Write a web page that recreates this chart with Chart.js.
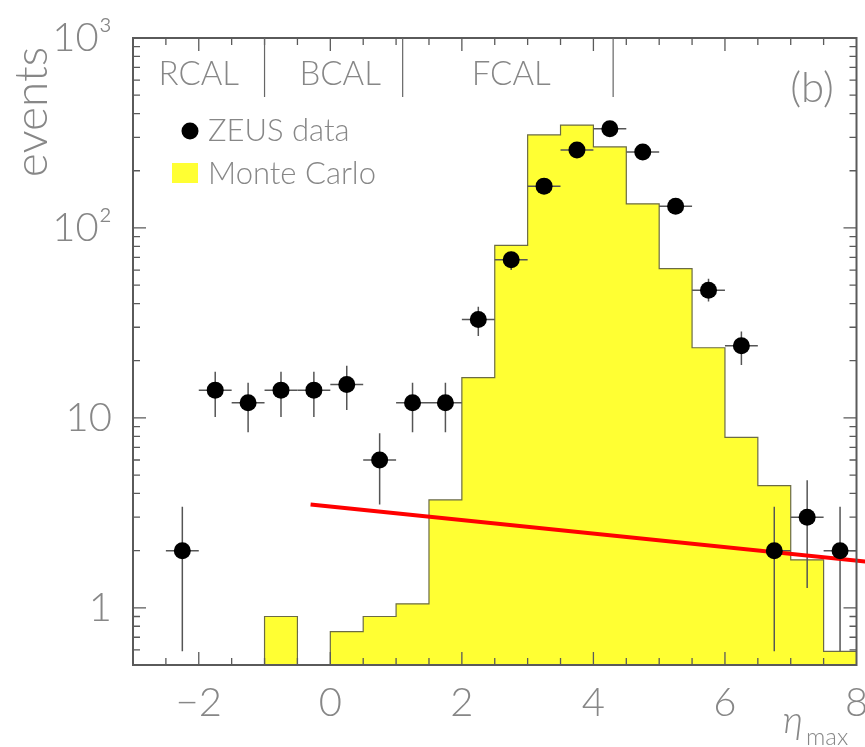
<!DOCTYPE html>
<html>
<head>
<meta charset="utf-8">
<script src="https://cdn.jsdelivr.net/npm/chart.js@4/dist/chart.umd.min.js"></script>
<style>
  html, body { margin: 0; padding: 0; background: #fff; }
  #wrap { width: 865px; height: 747px; }
</style>
</head>
<body>
<div id="wrap"><canvas id="etaChart" width="865" height="747"></canvas></div>
<script>
// ===============================
// DATA
// ===============================
const binCenters = [-2.25, -1.75, -1.25, -0.75, -0.25, 0.25, 0.75, 1.25, 1.75, 2.25, 2.75,
  3.25, 3.75, 4.25, 4.75, 5.25, 5.75, 6.25, 6.75, 7.25, 7.75];
const zeusData = [2, 14, 12, 14, 14, 15, 6, 12, 12, 33, 68, 166, 257, 333, 251, 130, 47, 24, 2, 3, 2];
const zeusHigh = [3.4, 17.5, 15.3, 17.5, 17.5, 18.8, 8.3, 15.3, 15.3, 38.5, 75, 179, 273, 351, 267, 142, 54, 28.5, 3.4, 4.7, 3.4];
const zeusLow = [0.59, 10.1, 8.4, 10.1, 10.1, 11, 3.5, 8.4, 8.4, 27, 60, 153, 241, 315, 235, 119, 41, 19, 0.59, 1.27, 0.59];
const binHalfWidth = 0.25;

// Monte Carlo histogram: left bin edges and contents (0.1 = empty bin, below the axis)
const mcLeftEdges = [-1, -0.5, 0, 0.5, 1, 1.5, 2, 2.5, 3, 3.5, 4, 4.5, 5, 5.5, 6, 6.5, 7, 7.5];
const mcValues = [0.9, 0.1, 0.75, 0.9, 1.05, 3.7, 16.3, 81, 309, 348, 267, 134, 61, 23.4, 7.9, 4.4, 1.79, 0.59];
const mcRightEdge = 8;

// red straight line
const fitX = [-0.3, 8.14];
const fitY = [3.5, 1.75];

// calorimeter regions
const calBounds = [-1.0, 1.1, 4.3];
const calBoundTop = 1000;
const calBoundBottom = 489;
const calNames = ["RCAL", "BCAL", "FCAL"];
const calLabelX = [-2.0, 0.15, 2.75];

// axes
const xTickValues = [-2, 0, 2, 4, 6, 8];
const yTickValues = [1, 10, 100, 1000];
const yTickLabels = { 1: "1", 10: "10", 100: "10²", 1000: "10³" };

// ===============================
// STYLE
// ===============================
const FONT = '"Lato", "DejaVu Sans", sans-serif';
const TEXT_GRAY = "#878787";
const AXIS_GRAY = "#5a5a5a";

Chart.defaults.font.family = FONT;
Chart.defaults.font.weight = 300;
Chart.defaults.color = TEXT_GRAY;

// histogram points for a stepped line
const mcPoints = [{ x: mcLeftEdges[0], y: 0.1 }];
mcLeftEdges.forEach((e, i) => mcPoints.push({ x: e, y: mcValues[i] }));
mcPoints.push({ x: mcRightEdge, y: mcValues[mcValues.length - 1] });

function drawErrorBars(chart) {
  const { ctx, chartArea, scales } = chart;
  const xs = scales.x, ys = scales.y;
  ctx.save();
  ctx.beginPath();
  ctx.rect(chartArea.left, chartArea.top, chartArea.right - chartArea.left, chartArea.bottom - chartArea.top);
  ctx.clip();
  ctx.strokeStyle = "#555";
  ctx.lineWidth = 1.5;
  binCenters.forEach((c, i) => {
    const px = xs.getPixelForValue(c);
    const py = ys.getPixelForValue(zeusData[i]);
    ctx.beginPath();
    ctx.moveTo(xs.getPixelForValue(c - binHalfWidth), py);
    ctx.lineTo(xs.getPixelForValue(c + binHalfWidth), py);
    ctx.moveTo(px, ys.getPixelForValue(zeusHigh[i]));
    ctx.lineTo(px, ys.getPixelForValue(zeusLow[i]));
    ctx.stroke();
  });
  ctx.restore();
}

const framePlugin = {
  id: "frame",
  afterDatasetDraw(chart, args) {
    if (args.index === 3) drawErrorBars(chart);
  },
  afterDatasetsDraw(chart) {
    const { ctx, chartArea: a, scales } = chart;
    const xs = scales.x, ys = scales.y;
    ctx.save();

    // frame
    ctx.strokeStyle = AXIS_GRAY;
    ctx.lineWidth = 2;
    ctx.strokeRect(a.left, a.top, a.right - a.left, a.bottom - a.top);

    // x ticks (inward, top and bottom)
    ctx.lineWidth = 1.3;
    ctx.beginPath();
    for (let v = -2.5; v < 8; v += 0.5) {
      const px = xs.getPixelForValue(v);
      const len = xTickValues.includes(v) ? 13 : 7;
      ctx.moveTo(px, a.bottom); ctx.lineTo(px, a.bottom - len);
      ctx.moveTo(px, a.top); ctx.lineTo(px, a.top + len);
    }
    // y ticks (inward, left and right)
    for (let d = 0.1; d < 1000; d *= 10) {
      for (let m = 1; m <= 9; m++) {
        const v = m * d;
        if (v <= 0.5 || v >= 1000) continue;
        const py = ys.getPixelForValue(v);
        const len = m === 1 ? 13 : 7;
        ctx.moveTo(a.left, py); ctx.lineTo(a.left + len, py);
        ctx.moveTo(a.right, py); ctx.lineTo(a.right - len, py);
      }
    }
    ctx.stroke();

    // calorimeter boundaries
    ctx.strokeStyle = "#666";
    ctx.lineWidth = 1.2;
    ctx.beginPath();
    calBounds.forEach((b) => {
      const px = xs.getPixelForValue(b);
      ctx.moveTo(px, ys.getPixelForValue(calBoundTop));
      ctx.lineTo(px, ys.getPixelForValue(calBoundBottom));
    });
    ctx.stroke();

    ctx.fillStyle = TEXT_GRAY;
    ctx.textBaseline = "middle";
    ctx.textAlign = "center";
    ctx.font = "300 33px " + FONT;
    calNames.forEach((n, i) => ctx.fillText(n, xs.getPixelForValue(calLabelX[i]), 74));

    // panel label
    ctx.font = "300 42px " + FONT;
    ctx.fillText("(b)", 812, 88);

    // legend
    ctx.textAlign = "left";
    ctx.font = "300 31px " + FONT;
    ctx.fillStyle = "#000";
    ctx.beginPath();
    ctx.arc(190, 131, 8.5, 0, Math.PI * 2);
    ctx.fill();
    ctx.fillStyle = "#ffff33";
    ctx.fillRect(172, 163, 26, 20);
    ctx.fillStyle = TEXT_GRAY;
    ctx.fillText("ZEUS data", 208, 131);
    ctx.fillText("Monte Carlo", 208, 174);

    // y axis title
    ctx.save();
    ctx.translate(32, 112);
    ctx.rotate(-Math.PI / 2);
    ctx.textAlign = "center";
    ctx.font = "300 46px " + FONT;
    ctx.fillText("events", 0, 0);
    ctx.restore();

    // x axis title
    ctx.textBaseline = "alphabetic";
    ctx.font = "italic 300 38px " + FONT;
    ctx.fillText("η", 783, 733);
    ctx.font = "300 24px " + FONT;
    ctx.fillText("max", 806, 745);

    ctx.restore();
  },
};

// ===============================
// CHART
// ===============================
const canvas = document.getElementById("etaChart");

new Chart(canvas, {
  type: "line",
  data: {
    datasets: [
      {
        label: "ZEUS data",
        data: binCenters.map((c, i) => ({ x: c, y: zeusData[i] })),
        showLine: false,
        pointRadius: 8.5,
        pointBackgroundColor: "#000",
        pointBorderWidth: 0,
      },
      {
        label: "fit",
        data: fitX.map((x, i) => ({ x, y: fitY[i] })),
        borderColor: "#ff0000",
        borderWidth: 4,
        pointRadius: 0,
        clip: false,
      },
      {
        label: "spacer",
        data: [],
      },
      {
        label: "Monte Carlo",
        data: mcPoints,
        stepped: "before",
        borderColor: "#6b6b45",
        borderWidth: 1.2,
        backgroundColor: "#ffff33",
        fill: "start",
        pointRadius: 0,
      },
    ],
  },
  options: {
    responsive: false,
    animation: false,
    layout: { padding: { top: 38, right: 8, left: 0, bottom: 0 } },
    plugins: {
      legend: { display: false },
      tooltip: { enabled: false },
    },
    scales: {
      x: {
        type: "linear",
        min: -3,
        max: 8,
        afterBuildTicks: (scale) => {
          scale.ticks = xTickValues.map((v) => ({ value: v }));
        },
        afterFit: (scale) => {
          scale.height = 82;
          scale.paddingLeft = 0;
          scale.paddingRight = 0;
        },
        ticks: {
          font: { size: 40, weight: 300 },
          color: TEXT_GRAY,
          padding: 6,
          maxRotation: 0,
          callback: (v) => (v < 0 ? "\u2212" + Math.abs(v) : String(v)),
        },
        grid: { display: false },
        border: { display: false },
      },
      y: {
        type: "logarithmic",
        min: 0.5,
        max: 1000,
        afterBuildTicks: (scale) => {
          scale.ticks = yTickValues.map((v) => ({ value: v }));
        },
        afterFit: (scale) => {
          scale.width = 133;
          scale.paddingTop = 0;
          scale.paddingBottom = 0;
        },
        ticks: {
          font: { size: 40, weight: 300 },
          color: TEXT_GRAY,
          padding: 13,
          callback: (v) => yTickLabels[v] || "",
        },
        grid: { display: false },
        border: { display: false },
      },
    },
  },
  plugins: [framePlugin],
});
</script>
</body>
</html>
